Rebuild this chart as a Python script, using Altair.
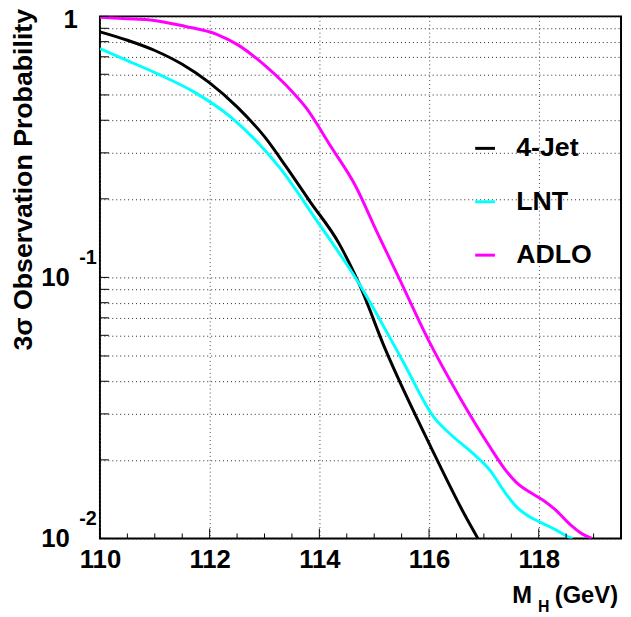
import altair as alt
import pandas as pd

# ---- data ----
jet_x = [110.0, 110.5, 111.0, 111.5, 112.0, 112.5, 113.0, 113.4, 113.82, 114.36, 114.72,
         115.2, 116.04, 116.64, 116.89]
jet_y = [0.872, 0.810, 0.740, 0.655, 0.556, 0.450, 0.346, 0.2645, 0.1965, 0.1347, 0.0950,
         0.0532, 0.02224, 0.01243, 0.0100]

lnt_x = [110.0, 110.5, 111.06, 111.72, 112.38, 112.86, 113.28, 113.94, 114.72, 115.5,
         116.1, 116.4, 116.82, 117.12, 117.36, 117.6, 117.84, 118.08, 118.32, 118.56, 118.62]
lnt_y = [0.752, 0.677, 0.601, 0.5126, 0.4122, 0.3316, 0.2627, 0.1665, 0.0950, 0.04872,
         0.02888, 0.02496, 0.02098, 0.01815, 0.01525, 0.01318, 0.01208, 0.01140, 0.01076,
         0.01009, 0.0100]

adlo_x = [110.0, 110.5, 110.88, 111.54, 112.14, 112.5, 112.98, 113.4, 113.76, 114.21,
          114.66, 115.04, 115.44, 115.98, 116.55, 117.12, 117.36, 117.59, 117.84, 118.08,
          118.31, 118.56, 118.79, 118.97]
adlo_y = [0.991, 0.979, 0.971, 0.917, 0.852, 0.781, 0.656, 0.543, 0.4457, 0.3173,
          0.2239, 0.1508, 0.1007, 0.0580, 0.0350, 0.02224, 0.01868, 0.01640, 0.01502,
          0.01401, 0.01284, 0.01137, 0.01041, 0.0100]

series_names = ["4-Jet", "LNT", "ADLO"]
series_colors = ["#000000", "#00FFFF", "#FF00FF"]

x_major = [110, 112, 114, 116, 118]
x_minor = [110.5, 111, 111.5, 112.5, 113, 113.5, 114.5, 115, 115.5, 116.5, 117, 117.5,
           118.5, 119, 119.5]
y_values = [0.01, 0.02, 0.03, 0.04, 0.05, 0.06, 0.07, 0.08, 0.09,
            0.1, 0.2, 0.3, 0.4, 0.5, 0.6, 0.7, 0.8, 0.9, 1.0]
exp_values = [0.1, 0.01]
exp_labels = ["-1", "-2"]

FONT = "Liberation Sans"
W, H = 527, 528

rows = []
for name, xs, ys in zip(series_names, [jet_x, lnt_x, adlo_x], [jet_y, lnt_y, adlo_y]):
    for a, b in zip(xs, ys):
        rows.append({"series": name, "mh": a, "p": b})
df = pd.DataFrame(rows)

xscale = alt.Scale(domain=[110, 119.5], nice=False, zero=False)
yscale = alt.Scale(type="log", domain=[0.01, 1], nice=False)

x_axis = alt.Axis(values=x_major, grid=True, gridDash=[1, 3], gridColor="#444",
                  gridWidth=1, ticks=False, domain=False, labelFont=FONT,
                  labelFontSize=26, labelFontWeight="bold", labelColor="black",
                  labelPadding=8, labelFlush=False, format="d", title=None)

y_axis = alt.Axis(values=y_values, grid=True, gridDash=[1, 3], gridColor="#222",
                  gridWidth=1, ticks=False, domain=False, labelFont=FONT,
                  labelFontSize=26, labelFontWeight="bold", labelColor="black",
                  labelFlush=False, labelOverlap=False,
                  labelExpr="datum.value >= 0.99 ? '1' : (abs(log(datum.value)/LN10 - round(log(datum.value)/LN10)) < 0.001 ? '10' : '')",
                  labelPadding={"condition": {"test": "datum.value >= 0.99", "value": 23}, "value": 31},
                  labelOffset={"condition": {"test": "datum.value >= 0.99", "value": 3}, "value": 0},
                  title="3σ Observation Probability", titleFont=FONT, titleFontSize=27,
                  titleFontWeight="bold", titleColor="black", titleAngle=270,
                  titleAlign="right", titleBaseline="alphabetic", titleX=-69, titleY=-8)

x_enc = alt.X("mh:Q", scale=xscale, axis=x_axis)
y_enc = alt.Y("p:Q", scale=yscale, axis=y_axis)

lines = alt.Chart(df).mark_line(strokeWidth=3, clip=True, interpolate="monotone").encode(
    x=x_enc, y=y_enc,
    color=alt.Color("series:N", sort=series_names,
                    scale=alt.Scale(domain=series_names, range=series_colors),
                    legend=alt.Legend(orient="none", legendX=376, legendY=120, title=None,
                                      symbolType="stroke", symbolStrokeWidth=3,
                                      symbolSize=400, labelFont=FONT, labelFontSize=27,
                                      labelFontWeight="bold", labelColor="black",
                                      labelOffset=18, rowPadding=26, padding=0)),
)

y_ticks = alt.Chart(pd.DataFrame({"p": y_values})).mark_rule(color="black", strokeWidth=1).encode(
    y=y_enc, x=alt.value(0), x2=alt.value(9))

x_ticks_major = alt.Chart(pd.DataFrame({"mh": x_major})).mark_rule(color="black", strokeWidth=1).encode(
    x=x_enc, y=alt.value(H), y2=alt.value(H - 10))
x_ticks_minor = alt.Chart(pd.DataFrame({"mh": x_minor})).mark_rule(color="black", strokeWidth=1).encode(
    x=x_enc, y=alt.value(H), y2=alt.value(H - 5))

exps = alt.Chart(pd.DataFrame({"p": exp_values, "lab": exp_labels})).mark_text(
    align="left", baseline="alphabetic", dy=-14, font=FONT, fontSize=20,
    fontWeight="bold", color="black").encode(y=y_enc, x=alt.value(-21), text="lab:N")

def label(txt, xpos, ypos, size, align="left"):
    return alt.Chart(pd.DataFrame({"t": [txt]})).mark_text(
        align=align, baseline="alphabetic", font=FONT, fontSize=size,
        fontWeight="bold", color="black").encode(
        x=alt.value(xpos), y=alt.value(ypos), text="t:N")

title_m = label("M", 417, 593, 24)
title_h = label("H", 443, 602, 16)
title_gev = label("(GeV)", 460, 593, 24)

chart = alt.layer(lines, y_ticks, x_ticks_major, x_ticks_minor, exps,
                  title_m, title_h, title_gev).properties(
    width=W, height=H,
    padding={"left": 93, "top": 5, "right": 2, "bottom": 75},
    autosize=alt.AutoSizeParams(type="none"),
).configure_view(stroke="black", strokeWidth=2)

chart.save("out.html", embed_options={"renderer": "svg", "actions": False})
